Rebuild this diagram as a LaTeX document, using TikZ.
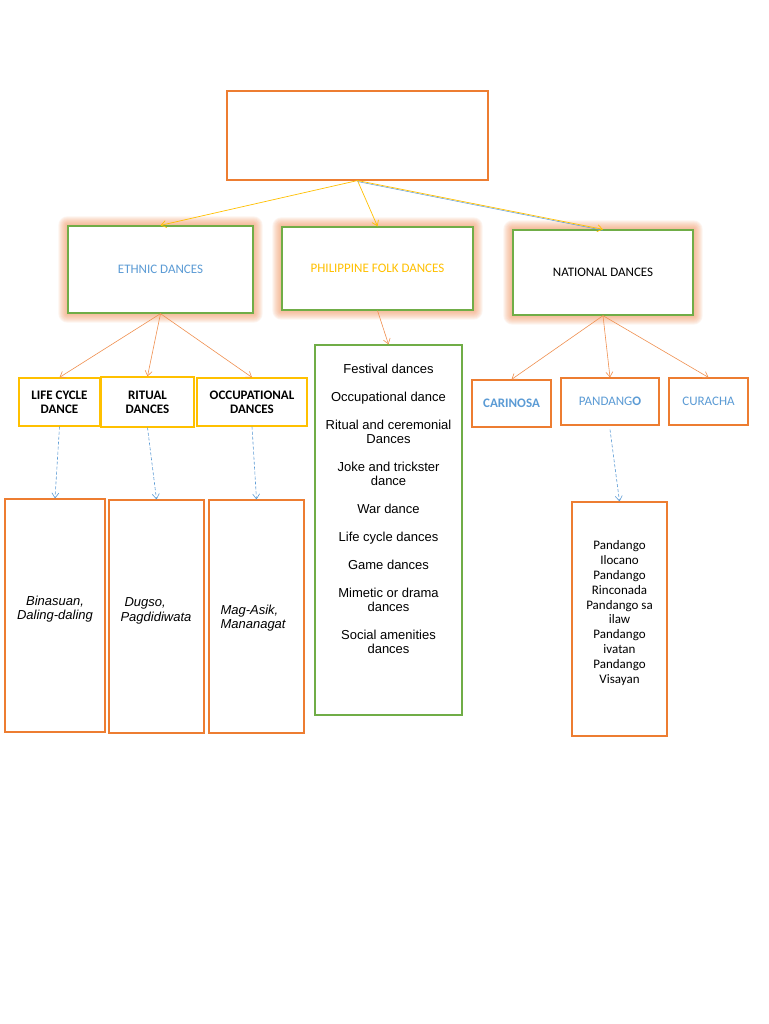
\documentclass[tikz,border=0pt]{standalone}
\usepackage{fontspec}
\setmainfont{Carlito}
\newfontfamily\arialf{Liberation Sans}
\usetikzlibrary{arrows.meta,backgrounds}
\definecolor{oor}{HTML}{ED7D31}
\definecolor{ogr}{HTML}{70AD47}
\definecolor{oye}{HTML}{FFC000}
\definecolor{obl}{HTML}{5B9BD5}
\definecolor{glowc}{HTML}{F4A070}
\pgfdeclarelayer{paper}
\pgfsetlayers{paper,background,main}
\tikzset{
  orbox/.style={draw=oor, line width=1.1pt, fill=white, inner sep=0pt},
  grbox/.style={draw=ogr, line width=1.3pt, fill=white, inner sep=0pt},
  yebox/.style={draw=oye, line width=1.2pt, fill=white, inner sep=0pt, align=center, font=\fontsize{13}{14}\selectfont\bfseries},
  orarrow/.style={draw=oor!85, line width=0.6pt, -{Straight Barb[length=5pt,width=7pt]}},
  yearrow/.style={draw=oye, line width=0.7pt, -{Straight Barb[length=5pt,width=7pt]}},
  blarrow/.style={draw=obl, line width=0.6pt, densely dashed, -{Straight Barb[length=5pt,width=7pt]}},
  bltext/.style={text=obl, font=\fontsize{13}{15}\selectfont},
}
\newcommand\myglow[1]{%
  \foreach \i in {1,...,9}{%
    \fill[glowc, opacity=0.11, rounded corners=\i pt] ([shift={(-\i pt,\i pt)}]#1.north west) rectangle ([shift={(\i pt,-\i pt)}]#1.south east);}%
}
\begin{document}
\begin{tikzpicture}[x=1pt,y=-1pt]
\begin{pgfonlayer}{paper}
\useasboundingbox[fill=white] (0,0) rectangle (768,1024);
\end{pgfonlayer}
% top
\node[orbox, minimum width=261pt, minimum height=89pt] (top) at (357.5,135.5) {};
% level 1
\node[grbox, minimum width=185pt, minimum height=87pt, bltext] (eth) at (160.5,269.5) {ETHNIC DANCES};
\node[grbox, minimum width=191pt, minimum height=83pt, text=oye, font=\fontsize{13}{15}\selectfont] (folk) at (377.5,268.5) {PHILIPPINE FOLK DANCES};
\node[grbox, minimum width=180pt, minimum height=85pt, font=\fontsize{13}{15}\selectfont] (nat) at (603,272.5) {NATIONAL DANCES};
\begin{pgfonlayer}{background}
\myglow{eth}
\myglow{folk}
\myglow{nat}
\end{pgfonlayer}
% level 2 ethnic
\node[yebox, minimum width=81pt, minimum height=48pt] (life) at (59.5,402) {LIFE CYCLE\\DANCE};
\node[yebox, minimum width=93pt, minimum height=50pt] (rit) at (147.5,402) {RITUAL\\DANCES};
\node[yebox, minimum width=110pt, minimum height=48pt] (occ) at (252,402) {OCCUPATIONAL\\DANCES};
% level 2 national
\node[orbox, minimum width=79pt, minimum height=47pt, bltext, font=\fontsize{13}{15}\selectfont\bfseries] (car) at (511.5,403.5) {CARINOSA};
\node[orbox, minimum width=98pt, minimum height=47pt, bltext] (pan) at (610,401.5) {PANDANG\textbf{O}};
\node[orbox, minimum width=79pt, minimum height=47pt, bltext] (cur) at (708.5,401.5) {CURACHA};
% folk list
\node[grbox, minimum width=147pt, minimum height=370pt] (list) at (388.5,530) {};
\node[anchor=base, align=center, font=\arialf\fontsize{13}{14}\selectfont] (listtxt) at (388.5,653) {%
Festival dances\\[14pt]
Occupational dance\\[14pt]
Ritual and ceremonial\\Dances\\[14pt]
Joke and trickster\\dance\\[14pt]
War dance\\[14pt]
Life cycle dances\\[14pt]
Game dances\\[14pt]
Mimetic or drama\\dances\\[14pt]
Social amenities\\dances};
% example boxes
\node[orbox, minimum width=100pt, minimum height=233pt] (bin) at (55,615.5) {};
\node[orbox, minimum width=95pt, minimum height=233pt] (dug) at (156.5,616.5) {};
\node[orbox, minimum width=95pt, minimum height=233pt] (mag) at (256.5,616.5) {};
\node[orbox, minimum width=95pt, minimum height=234pt] (plist) at (619.5,619) {};
\node[anchor=base, align=center, font=\arialf\itshape\fontsize{13}{14.5}\selectfont] (bintxt) at (55,619.5) {Binasuan,\\Daling-daling};
\node[anchor=base west, align=left, font=\arialf\itshape\fontsize{13}{14.5}\selectfont] (dugtxt) at (117,621) {\hspace{4pt}Dugso,\\Pagdidiwata};
\node[anchor=base west, align=left, font=\arialf\itshape\fontsize{13}{14.5}\selectfont] (magtxt) at (217,628.5) {Mag-Asik,\\Mananagat};
\node[anchor=base, align=center, font=\fontsize{13}{14.8}\selectfont] (pltxt) at (619.5,683) {Pandango\\Ilocano\\Pandango\\Rinconada\\Pandango sa\\ilaw\\Pandango\\ivatan\\Pandango\\Visayan};
% arrows
\draw[yearrow] (top.south) -- (eth.north);
\draw[yearrow] (top.south) -- (folk.north);
\draw[draw=obl, line width=0.5pt] ([yshift=-1pt]top.south) -- ([yshift=-1pt]nat.north);
\draw[yearrow] (top.south) -- (nat.north);
\draw[orarrow] (eth.south) -- (life.north);
\draw[orarrow] (eth.south) -- (rit.north);
\draw[orarrow] (eth.south) -- (occ.north);
\draw[orarrow] (folk.south) -- (list.north);
\draw[orarrow] (nat.south) -- (car.north);
\draw[orarrow] (nat.south) -- (pan.north);
\draw[orarrow] (nat.south) -- (cur.north);
\draw[blarrow] (life.south) -- (bin.north);
\draw[blarrow] (rit.south) -- (dug.north);
\draw[blarrow] (occ.south) -- (mag.north);
\draw[blarrow] ([yshift=-4pt]pan.south) -- (plist.north);
\end{tikzpicture}
\end{document}
